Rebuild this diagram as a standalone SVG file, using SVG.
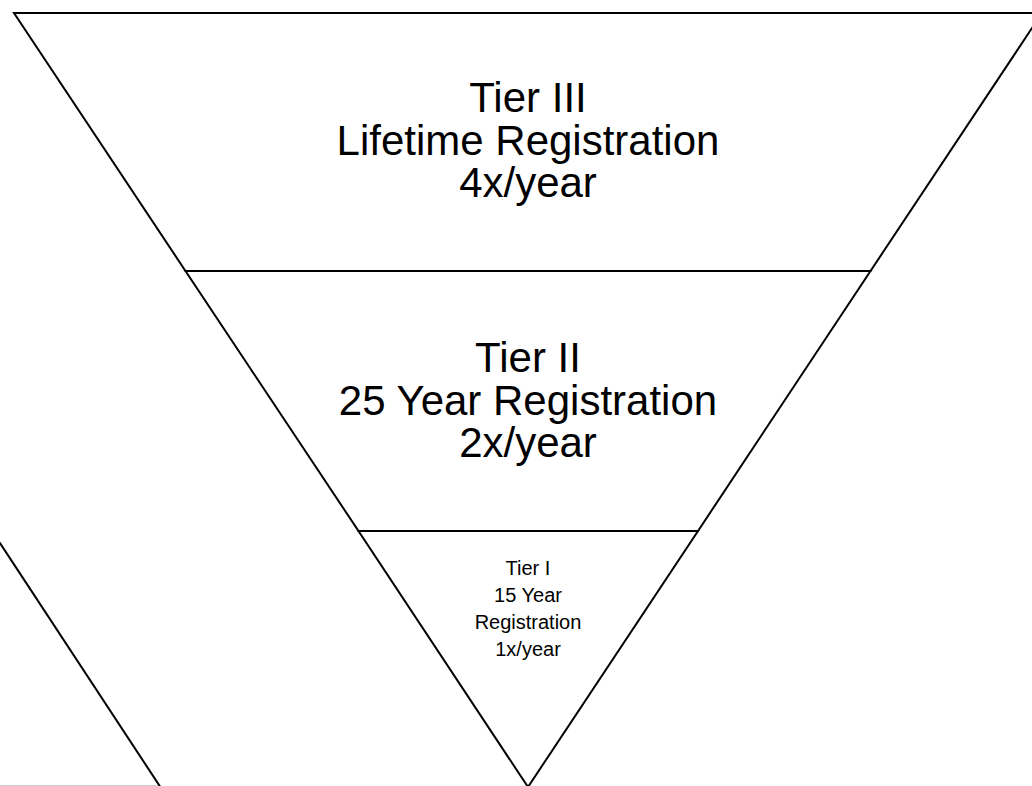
<svg xmlns="http://www.w3.org/2000/svg" width="1032" height="786" viewBox="0 0 1032 786">
<style>
.edge{stroke:#000;stroke-width:2;fill:none}
.big{font-family:"Liberation Sans",Arial,sans-serif;font-size:42px;fill:#000;text-anchor:middle}
.small{font-family:"Liberation Sans",Arial,sans-serif;font-size:20px;fill:#000;text-anchor:middle}
</style>
<rect width="1032" height="786" fill="#fff"/>
<g id="tier3">
<path class="edge" d="M14,13 L1042,13 L870.5,271 L185.5,271 Z"/>
<text class="big" x="528" y="112">Tier III</text>
<text class="big" x="528" y="155">Lifetime Registration</text>
<text class="big" x="528" y="197">4x/year</text>
</g>
<g id="tier2">
<path class="edge" d="M185.5,271 L870.5,271 L698,531 L358.5,531 Z"/>
<text class="big" x="528" y="372">Tier II</text>
<text class="big" x="528" y="415">25 Year Registration</text>
<text class="big" x="528" y="457">2x/year</text>
</g>
<g id="tier1">
<path class="edge" d="M358.5,531 L698,531 L528,787 Z"/>
<text class="small" x="528" y="575">Tier I</text>
<text class="small" x="528" y="602">15 Year</text>
<text class="small" x="528" y="629">Registration</text>
<text class="small" x="528" y="656">1x/year</text>
</g>
<g id="side">
<line class="edge" x1="-4" y1="537" x2="161" y2="788"/>
<line x1="0" y1="785.5" x2="158" y2="785.5" stroke="#ccc" stroke-width="1"/>
</g>
</svg>
